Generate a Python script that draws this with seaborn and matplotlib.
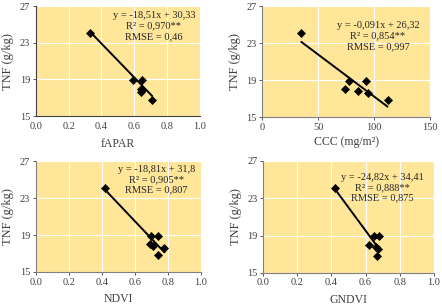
import matplotlib.pyplot as plt
import seaborn as sns
import numpy as np
import pandas as pd

sns.set_theme(style="white")
plt.rcParams['font.family'] = ['Liberation Serif', 'DejaVu Serif']

# TNF (g/kg) measured values, same order for every index
tnf = [24.1, 18.9, 18.9, 18.0, 17.8, 17.6, 16.8]

fapar = [0.33, 0.59, 0.65, 0.64, 0.65, 0.64, 0.71]
ccc = [35, 78, 93, 74, 86, 95, 112]
ndvi = [0.42, 0.70, 0.74, 0.69, 0.71, 0.78, 0.74]
gndvi = [0.42, 0.65, 0.68, 0.62, 0.66, 0.675, 0.665]

slopes = [-18.51, -0.091, -18.81, -24.82]
intercepts = [30.33, 26.32, 31.8, 34.41]
labels = ["y = -18,51x + 30,33\nR² = 0,970**\nRMSE = 0,46",
          "y = -0,091x + 26,32\nR² = 0,854**\nRMSE = 0,997",
          "y = -18,81x + 31,8\nR² = 0,905**\nRMSE = 0,807",
          "y = -24,82x + 34,41\nR² = 0,888**\nRMSE = 0,875"]
xnames = ["fAPAR", "CCC (mg/m²)", "NDVI", "GNDVI"]
xvals = [fapar, ccc, ndvi, gndvi]
xlims = [(0, 1), (0, 150), (0, 1), (0, 1)]
xticks = [np.arange(0, 1.01, 0.2), [0, 50, 100, 150],
          np.arange(0, 1.01, 0.2), np.arange(0, 1.01, 0.2)]

# axes boxes (fraction of figure) and text anchors (axes fraction)
boxes = [[0.081, 0.623, 0.371, 0.357], [0.593, 0.620, 0.380, 0.360],
         [0.081, 0.117, 0.373, 0.360], [0.595, 0.114, 0.387, 0.364]]
txt_pos = [(0.72, 0.955), (0.69, 0.865), (0.73, 0.965), (0.70, 0.895)]
xlabpad = [5.5, 3.5, 5, 5]
vgrid = [True, False, False, False]

fig = plt.figure(figsize=(4.42, 3.08), dpi=100)
for i in range(4):
    ax = fig.add_axes(boxes[i])
    ax.set_facecolor("#FFE699")
    df = pd.DataFrame({"x": xvals[i], "TNF": tnf})
    xs = np.array([min(xvals[i]), max(xvals[i])])
    ax.plot(xs, slopes[i] * xs + intercepts[i], color="black", lw=1.4, zorder=3)
    sns.scatterplot(data=df, x="x", y="TNF", marker="D", color="black",
                    s=18, edgecolor="black", ax=ax, zorder=4)
    ax.set_xlim(*xlims[i])
    ax.set_ylim(15, 27)
    ax.set_yticks([15, 19, 23, 27])
    ax.set_xticks(xticks[i])
    if i == 1:
        ax.set_xticklabels(["0", "50", "100", "150"])
    else:
        ax.set_xticklabels([f"{t:.1f}" for t in xticks[i]])
    ax.yaxis.grid(True, color="white", lw=0.8)
    ax.xaxis.grid(vgrid[i], color="white", lw=0.8)
    ax.set_axisbelow(True)
    for s in ["top", "right"]:
        ax.spines[s].set_visible(False)
    for s in ["left", "bottom"]:
        ax.spines[s].set_color("#404040" if i == 0 else "#808080")
        ax.spines[s].set_linewidth(0.8)
    ax.tick_params(axis="both", labelsize=7.5, colors="#404040", length=2,
                   width=0.6, pad=2, left=True, bottom=(i != 0))
    ax.set_xlabel(xnames[i], fontsize=8.5, color="#404040", labelpad=xlabpad[i])
    ax.set_ylabel("TNF (g/kg)", fontsize=9, color="#404040", labelpad=4)
    ax.text(txt_pos[i][0], txt_pos[i][1], labels[i], transform=ax.transAxes,
            ha="center", va="top", fontsize=7.5, color="#262626",
            linespacing=1.2)

plt.savefig("out.png", dpi=100)
plt.close()
